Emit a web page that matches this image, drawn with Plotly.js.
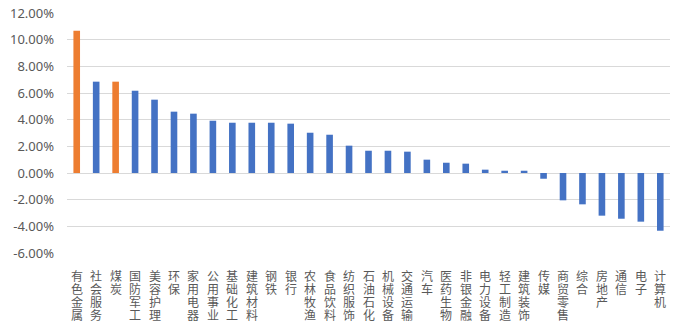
<!DOCTYPE html>
<html><head><meta charset="utf-8">
<script src="https://cdn.plot.ly/plotly-3.0.1.min.js"></script>
<style>html,body{margin:0;padding:0;background:#fff}#chart{width:685px;height:330px}</style>
</head><body><div id="chart"></div>
<script>
const categories = ["有色金属","社会服务","煤炭","国防军工","美容护理","环保","家用电器","公用事业","基础化工","建筑材料","钢铁","银行","农林牧渔","食品饮料","纺织服饰","石油石化","机械设备","交通运输","汽车","医药生物","非银金融","电力设备","轻工制造","建筑装饰","传媒","商贸零售","综合","房地产","通信","电子","计算机"];
const values = [10.67,6.85,6.85,6.17,5.50,4.60,4.45,3.92,3.77,3.77,3.77,3.70,3.02,2.87,2.05,1.67,1.67,1.60,1.00,0.77,0.70,0.25,0.17,0.17,-0.43,-2.05,-2.35,-3.20,-3.43,-3.65,-4.33];
const highlighted = ["有色金属","煤炭"];
const yTicks = [-6,-4,-2,0,2,4,6,8,10,12];
const yTickText = ["-6.00%","-4.00%","-2.00%","0.00%","2.00%","4.00%","6.00%","8.00%","10.00%","12.00%"];

const colors = categories.map(c => highlighted.includes(c) ? "#ED7D31" : "#4472C4");
const stacked = categories.map(c => Array.from(c).join("<br>"));

const annotations = categories.map((c, i) => ({
  x: c, xref: "x", y: 0, yref: "paper", yshift: -12,
  text: stacked[i], showarrow: false, xanchor: "center", yanchor: "top",
  font: {size: 12, color: "#595959", family: "Noto Sans CJK SC, sans-serif"}
}));

Plotly.newPlot("chart", [{
  type: "bar", x: categories, y: values,
  marker: {color: colors}, width: 0.34, hoverinfo: "none"
}], {
  width: 685, height: 330,
  margin: {l: 67, r: 15, t: 13, b: 77},
  paper_bgcolor: "#fff", plot_bgcolor: "#fff",
  font: {family: "Noto Sans CJK SC, sans-serif", color: "#595959"},
  showlegend: false,
  annotations: annotations,
  xaxis: {showticklabels: false, showgrid: false, zeroline: false, showline: false, ticks: ""},
  yaxis: {range: [-6, 12], tickmode: "array", tickvals: yTicks, ticktext: yTickText,
          tickfont: {size: 13, color: "#595959", family: "Noto Sans, sans-serif"},
          ticklabelstandoff: 12,
          gridcolor: "#d9d9d9", gridwidth: 1,
          zeroline: true, zerolinecolor: "#d9d9d9", zerolinewidth: 1, showline: false, ticks: ""}
}, {staticPlot: true}).then(gd => {
  gd.querySelectorAll(".annotation-text tspan.line").forEach(t => {
    const dy = t.getAttribute("dy");
    if (dy && dy.endsWith("em")) {
      const v = parseFloat(dy);
      t.setAttribute("dy", (v * 1.08 / 1.3) + "em");
    }
  });
});
</script></body></html>
